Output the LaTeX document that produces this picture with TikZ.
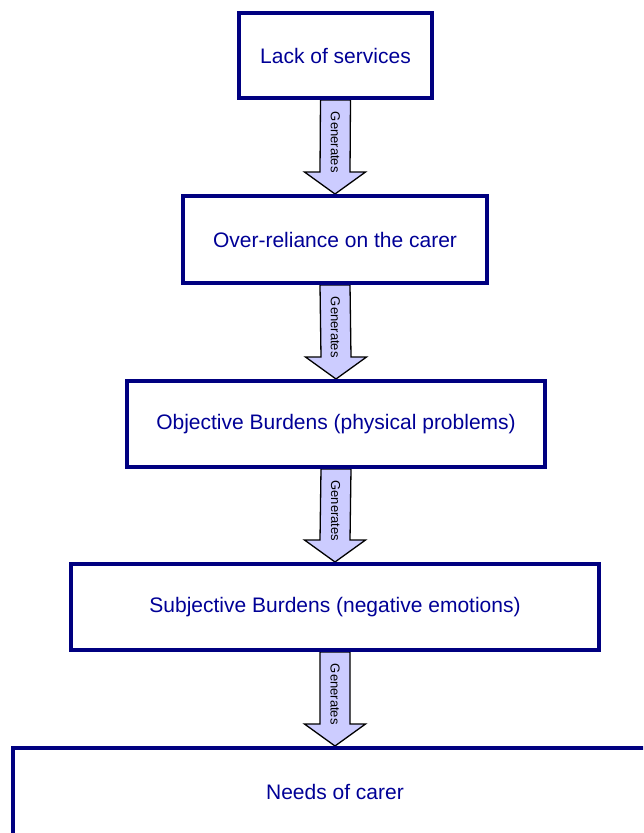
\documentclass[tikz,border=0pt]{standalone}
\usepackage{fontspec}
\setmainfont{Liberation Sans}
\usetikzlibrary{calc}
\pgfdeclarelayer{background}
\pgfsetlayers{background,main}
\definecolor{boxline}{RGB}{0,0,128}
\definecolor{boxtext}{RGB}{0,0,150}
\definecolor{arrowfill}{RGB}{204,204,255}
\tikzset{
  stagebox/.style={draw=boxline, line width=4pt, rectangle, inner sep=0pt,
    text=boxtext, font=\fontsize{21}{25}\selectfont},
  genarrow/.style={draw=black, fill=arrowfill, line width=1.3pt, line join=miter},
  genlabel/.style={rotate=-90, inner sep=0pt, font=\fontsize{13}{15}\selectfont, text=black}
}
\begin{document}
\begin{tikzpicture}[x=1pt,y=-1pt]
\useasboundingbox (0,0) rectangle (643,833);
\clip (0,0) rectangle (643,833);
% boxes
\node[stagebox, minimum width=193pt, minimum height=85pt] (b1) at (335.5,55.5) {Lack of services};
\node[stagebox, minimum width=304pt, minimum height=87pt] (b2) at (335,239.5) {Over-reliance on the carer};
\node[stagebox, minimum width=418pt, minimum height=86pt] (b3) at (336,424) {Objective Burdens (physical problems)};
\node[stagebox, minimum width=528pt, minimum height=86pt] (b4) at (335,607) {Subjective Burdens (negative emotions)};
\node[stagebox, minimum width=644pt, minimum height=88pt] (b5) at (335,792) {Needs of carer};
% arrows, behind the boxes
\begin{pgfonlayer}{background}
\foreach \a/\b in {b1/b2, b2/b3, b3/b4, b4/b5}{
  \draw[genarrow] ($(\a.south)+(-15,0)$) -- ($(\b.north)+(-15,-22)$)
    -- ($(\b.north)+(-30.5,-22)$) -- (\b.north) -- ($(\b.north)+(30.5,-22)$)
    -- ($(\b.north)+(15,-22)$) -- ($(\a.south)+(15,0)$) -- cycle;
  \node[genlabel] (lbl\a) at ($(\a.south)!0.45!(\b.north)$) {Generates};
}
\end{pgfonlayer}
\end{tikzpicture}
\end{document}
